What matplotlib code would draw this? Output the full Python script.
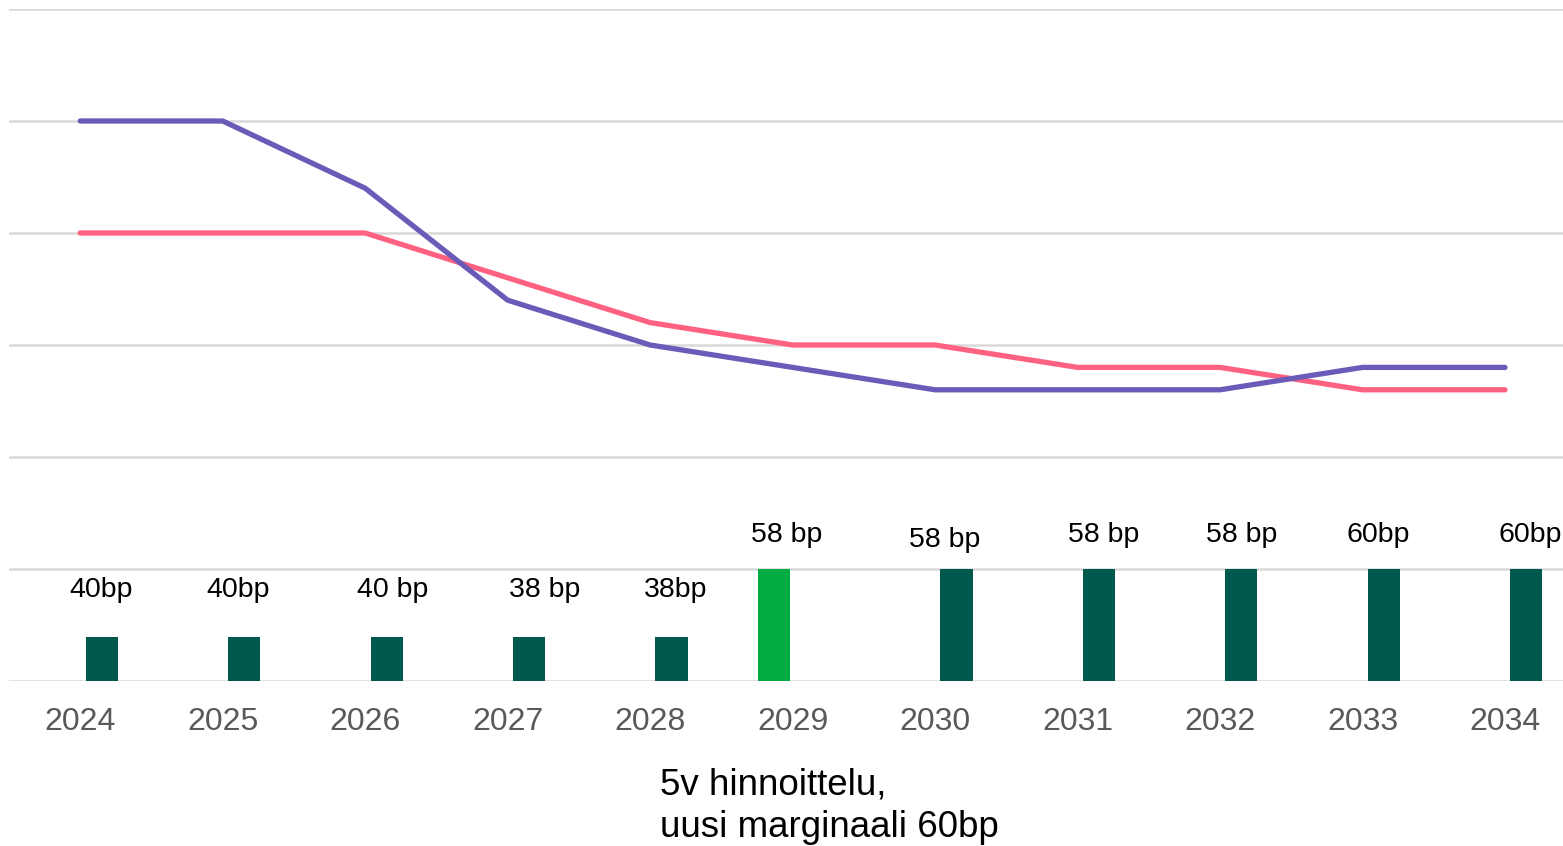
import numpy as np
import matplotlib.pyplot as plt

plt.rcParams['font.family'] = ['Liberation Sans', 'DejaVu Sans']

# Data (y in gridline units, grid step = 1)
years = ['2024', '2025', '2026', '2027', '2028', '2029', '2030', '2031', '2032', '2033', '2034']
purple_line = [5.0, 5.0, 4.4, 3.4, 3.0, 2.8, 2.6, 2.6, 2.6, 2.8, 2.8]
pink_line = [4.0, 4.0, 4.0, 3.6, 3.2, 3.0, 3.0, 2.8, 2.8, 2.6, 2.6]
bar_heights = [0.39, 0.39, 0.39, 0.39, 0.39, 1.0, 1.0, 1.0, 1.0, 1.0, 1.0]
bar_labels = ['40bp', '40bp', '40 bp', '38 bp', '38bp', '58 bp', '58 bp', '58 bp', '58 bp', '60bp', '60bp']
note = '5v hinnoittelu,\nuusi marginaali 60bp'

# Layout
x = np.arange(len(years))
bar_shift = np.array([0.15] * 5 + [-0.13] + [0.15] * 5)
label_dx = np.array([0.0, -0.04, 0.04, 0.11, 0.03, 0.09, -0.08, 0.03, 0.0, -0.04, 0.03])
label_y = np.array([0.81] * 5 + [1.30, 1.26, 1.30, 1.30, 1.30, 1.30])
bar_colors = ['#00594C'] * 5 + ['#00AC41'] + ['#00594C'] * 5

W, H = 1563, 846
fig = plt.figure(figsize=(W / 100, H / 100), dpi=100)
ax = fig.add_axes([9 / W, (H - 681) / H, 1 - 9 / W, (681 - 9) / H])

bx = x + bar_shift
ax.bar(bx, bar_heights, width=0.225, color=bar_colors, zorder=2)
for xi, dx, yi, lab in zip(bx, label_dx, label_y, bar_labels):
    ax.text(xi + dx, yi, lab, ha='center', va='center', fontsize=20.5, color='black')

ax.plot(x, pink_line, color='#FF6280', lw=3.8, solid_capstyle='round', zorder=3)
ax.plot(x, purple_line, color='#6A5BB8', lw=3.8, solid_capstyle='round', zorder=4)

ax.set_xlim(-0.5, (1563 - 80) / 142.5)
ax.set_ylim(0, 6)
ax.set_yticks(range(7))
ax.set_yticklabels([])
ax.set_xticks(x)
ax.set_xticklabels(years, fontsize=23, color='#595959')
ax.tick_params(axis='both', length=0)
ax.tick_params(axis='x', pad=19)
ax.grid(axis='y', color='#D9D9D9', lw=1.8)
ax.set_axisbelow(True)
for s in ax.spines.values():
    s.set_visible(False)

fig.text(660 / W, 1 - 806 / H, note, ha='left', va='center', fontsize=26.5, linespacing=1.28)

fig.savefig('out.png', dpi=100)
